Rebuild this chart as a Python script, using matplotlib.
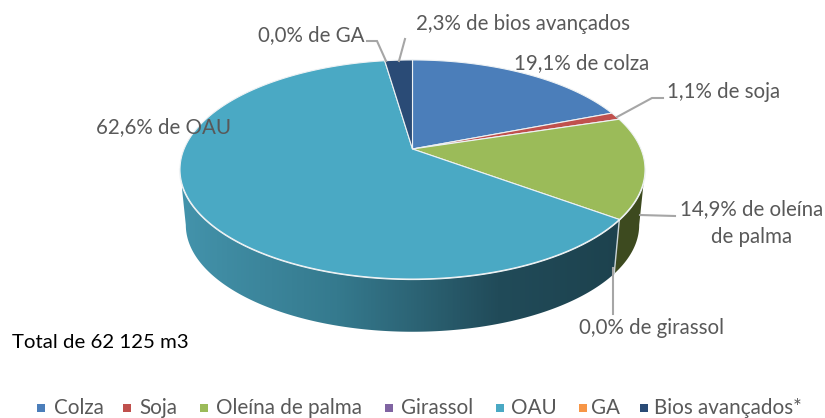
import numpy as np
import matplotlib
matplotlib.use("Agg")
import matplotlib.pyplot as plt
from matplotlib.patches import Polygon
from matplotlib.colors import LinearSegmentedColormap

categories = ["Colza", "Soja", "Oleína de palma", "Girassol", "OAU", "GA", "Bios avançados*"]
values = [19.1, 1.1, 14.9, 0.0, 62.6, 0.0, 2.3]
colors = ["#4B7EBA", "#C0504D", "#9BBB59", "#8064A2", "#4AA9C4", "#F79646", "#2A4B76"]
total_label = "Total de 62 125 m3"

plt.rcParams["font.family"] = ["Lato", "DejaVu Sans"]
W, H = 825, 418
fig = plt.figure(figsize=(W / 100, H / 100), dpi=100)
ax = fig.add_axes([0, 0, 1, 1])
ax.set_xlim(0, W)
ax.set_ylim(H, 0)
ax.axis("off")

CX, CY, RX, RY, C = 412.5, 149.0, 228.4, 105.7, 0.187
DEPTH, SHRINK = 56.0, 0.975
# rim angles at which the projected disc reaches its left and right extremes
A_RIGHT = np.degrees(np.arccos(-C))
A_LEFT = 360 - A_RIGHT


def rim(deg, lower=False):
    t = np.radians(deg)
    u, v = np.sin(t), np.cos(t)
    s = SHRINK if lower else 1.0
    d = DEPTH if lower else 0.0
    return np.column_stack([CX + s * RX * u / (1 + C * v),
                            CY + d - s * RY * v / (1 + C * v)])


edges = np.concatenate([[0], np.cumsum(values)]) * 3.6
TXT = "#595959"
GRID = "#A6A6A6"

# side walls
side_olive = "#3D4A1F"
olive_a = np.linspace(A_RIGHT, edges[3], 60)
ax.add_patch(Polygon(np.vstack([rim(olive_a), rim(olive_a[::-1], True)]),
                     fc=side_olive, ec="none", zorder=1))
oau_a = np.linspace(edges[4], A_LEFT, 200)
poly = Polygon(np.vstack([rim(oau_a), rim(oau_a[::-1], True)]), fc="none", ec="none", zorder=1)
ax.add_patch(poly)
cmap = LinearSegmentedColormap.from_list(
    "side", [(0, "#4393AB"), (0.1, "#3F8BA2"), (0.35, "#357A8E"),
             (0.55, "#2B6172"), (0.72, "#214B59"), (1, "#1D424E")])
grad = np.linspace(0, 1, 440).reshape(1, -1)
im = ax.imshow(grad, cmap=cmap, extent=(182, 622, 340, 150), aspect="auto", zorder=1)
im.set_clip_path(poly)
ax.set_xlim(0, W)
ax.set_ylim(H, 0)

# seam between the walls
seam = np.vstack([rim(np.array([edges[3]])), rim(np.array([edges[3]]), True)])
ax.plot(seam[:, 0], seam[:, 1], color="#C9D3D6", lw=1.0, zorder=2)

# white rim above the wall
front = rim(np.linspace(A_RIGHT, A_LEFT, 300))
ax.plot(front[:, 0], front[:, 1], color="#F2F5F6", lw=1.6, zorder=2)

# top faces
for i, val in enumerate(values):
    if val <= 0:
        continue
    a = np.linspace(edges[i], edges[i + 1], max(int(val * 6), 6))
    ax.add_patch(Polygon(np.vstack([[CX, CY], rim(a)]), closed=True, fc=colors[i],
                         ec="#EEF2F4", lw=0.8, joinstyle="round", zorder=3))

# leader lines
leaders = [
    [(367, 41), (377, 41), (386, 61)],
    [(405, 39), (399, 61)],
    [(663, 98), (652, 98), (617, 117)],
    [(675, 216), (640, 215)],
    [(613, 268), (613, 314)],
]
for pts in leaders:
    p = np.array(pts)
    ax.plot(p[:, 0], p[:, 1], color=GRID, lw=1.5, zorder=4, solid_joinstyle="miter")

# data labels
FS = 14.8
labels = [
    ("2,3% de bios avançados", 416, 24, "left"),
    ("0,0% de GA", 258, 35, "left"),
    ("19,1% de colza", 514, 63, "left"),
    ("1,1% de soja", 667, 92, "left"),
    ("62,6% de OAU", 96, 127, "left"),
    ("14,9% de oleína", 752, 209, "center"),
    ("de palma", 752, 237, "center"),
    ("0,0% de girassol", 579, 328, "left"),
]
for s, x, y, ha in labels:
    ax.text(x, y, s, color=TXT, fontsize=FS, ha=ha, va="center", zorder=5)

ax.text(12, 342, total_label, color="black", fontsize=14.7, ha="left", va="center", zorder=5)

# legend
marker_x = [41, 127, 204, 389, 500, 583, 644]
text_x = [54, 139, 216, 401, 511, 591, 654]
for name, col, mx, tx in zip(categories, colors, marker_x, text_x):
    ax.scatter([mx], [408], marker="s", s=26, color=col, linewidths=0, zorder=5)
    ax.text(tx, 408, name, color=TXT, fontsize=14.9, ha="left", va="center", zorder=5)

fig.savefig("out.png", dpi=100)
